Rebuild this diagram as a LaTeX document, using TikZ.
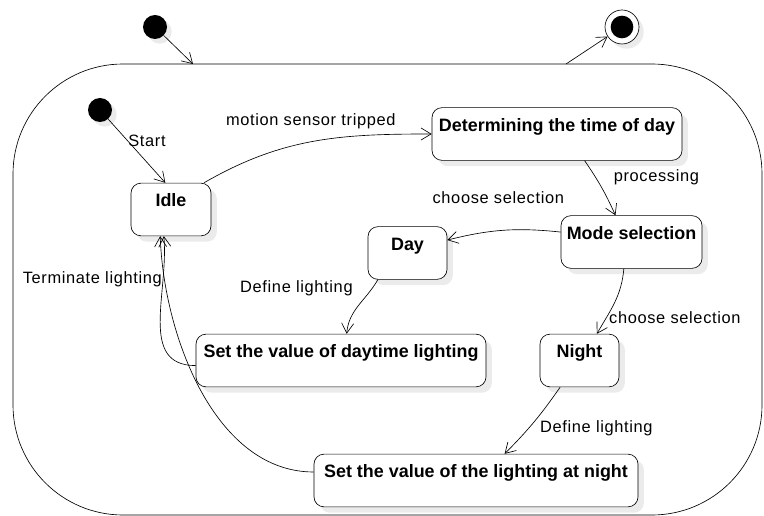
\documentclass[tikz,border=0pt]{standalone}
\usepackage{fontspec}
\setmainfont{Liberation Sans}
\usepackage{tikz}
\usetikzlibrary{arrows.meta, shadows, calc}

\begin{document}
\begin{tikzpicture}[x=0.03cm, y=-0.03cm, line width=0.55pt,
    state/.style={rectangle, draw, fill=white, rounded corners=3mm, text height=12pt, text depth=17pt, inner ysep=8pt, font=\fontsize{15.3}{17}\selectfont\bfseries, drop shadow={shadow xshift=5pt, shadow yshift=-5pt, fill=black!8, opacity=1}},
    initial/.style={circle, fill=black, minimum size=0.72cm, inner sep=0pt, drop shadow={shadow xshift=4pt, shadow yshift=-4pt, fill=black!8, opacity=1}},
    finalstate/.style={circle, draw, fill=white, minimum size=1.02cm, inner sep=0pt, drop shadow={shadow xshift=4pt, shadow yshift=-4pt, fill=black!8, opacity=1}},
    finaldot/.style={circle, fill=black, minimum size=0.68cm, inner sep=0pt},
    trans/.style={-{Straight Barb[length=3mm, width=3.6mm]}},
    lbl/.style={font=\fontsize{14}{16}\selectfont\addfontfeatures{LetterSpace=4}}
]
\useasboundingbox (0,0) rectangle (764,516);

% outer composite state
\draw[rounded corners=3.3cm] (13,64) rectangle (762,515);
\coordinate (entry) at (193,64);
\coordinate (exit) at (566,64);

\node[initial] (init) at (155,27) {};
\node[finalstate] (final) at (622,27) {};
\node[finaldot] (finalin) at (final.center) {};
\node[initial] (start) at (100,110) {};

\node[state, minimum width=2.4cm] (idle) at (171,209.5) {Idle};
\node[state, minimum width=7.5cm] (determ) at (557,134) {Determining the time of day};
\node[state, minimum width=4.23cm] (mode) at (631.5,242) {Mode selection};
\node[state, minimum width=2.37cm] (day) at (407.5,253) {Day};
\node[state, minimum width=2.37cm] (night) at (579.5,360.5) {Night};
\node[state, minimum width=8.7cm] (setday) at (341,360.5) {Set the value of daytime lighting};
\node[state, minimum width=9.72cm] (setnight) at (476,480.5) {Set the value of the lighting at night};

\draw[trans] (init) -- (entry);
\draw[trans] (exit) -- (final);
\draw[trans] (start) -- node[lbl, pos=0.45, anchor=south west, inner sep=1pt, xshift=-6pt] {Start} (idle.-258);
\draw[trans] (idle.39) to[out=30, in=180] node[lbl, pos=0.45, above=9pt, xshift=7pt] {motion sensor tripped} (determ.west);
\draw[trans] (determ.-44) to[bend left=5] node[lbl, pos=0.3, anchor=west, xshift=12pt] {processing} (mode.121);
\draw[trans] (mode.172) to[bend right=10] node[lbl, pos=0.45, above=19pt, xshift=-9pt] {choose selection} (day.18);
\draw[trans] (mode.-106) to[out=-95, in=60] node[lbl, pos=0.75, anchor=west, inner sep=2pt] {choose selection} (night.57);
\draw[trans] (day.-138) to[out=-120, in=85] node[lbl, pos=0.15, anchor=east, xshift=-13pt] {Define lighting} (setday.78);
\draw[trans] (night.-126) to[bend left=5] node[lbl, pos=0.6, anchor=west, xshift=6pt] {Define lighting} (setnight.43);
\draw[trans] (setday.182) to[out=180, in=-85, looseness=1.1] (idle.-105);
\draw[trans] (setnight.177) to[out=180, in=-88, looseness=0.9] node[lbl, pos=0.86, anchor=east, inner sep=2pt] {Terminate lighting} (idle.-112);
\end{tikzpicture}
\end{document}
